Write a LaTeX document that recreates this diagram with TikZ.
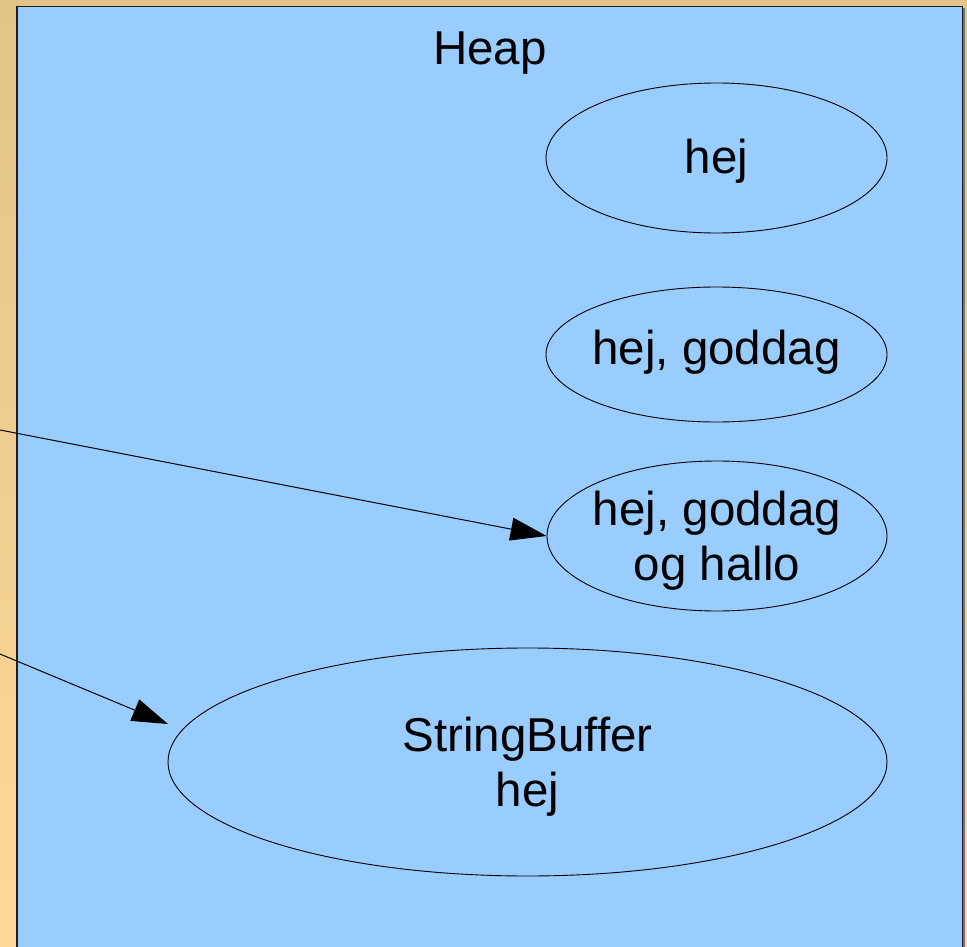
\documentclass[tikz,border=0pt]{standalone}
\usepackage{fontspec}
\setmainfont{Liberation Sans}
\usetikzlibrary{arrows.meta,shapes.geometric}
\definecolor{sandtop}{RGB}{226,196,136}
\definecolor{sandlow}{RGB}{254,216,154}
\definecolor{heapblue}{RGB}{153,204,255}
\definecolor{frame}{RGB}{30,30,30}
\tikzset{
  obj/.style={draw=black, line width=0.9pt, ellipse, inner sep=0pt},
  label/.style={align=center, inner sep=0pt, font=\fontsize{47.5}{55}\selectfont},
  ref/.style={draw=black, line width=1pt, -{Triangle[length=36pt,width=23pt]}},
}
\begin{document}
\begin{tikzpicture}[x=1pt,y=-1pt]
  \useasboundingbox (0,0) rectangle (967,947);
  % sand-coloured backdrop
  \shade[top color=sandtop, middle color=sandlow, bottom color=sandlow] (0,0) rectangle (967,947);
  % heap area
  \fill[black!55] (19.5,8.5) rectangle (965,960);
  \filldraw[fill=heapblue, draw=frame, line width=1.6pt] (17,6.5) rectangle (962.5,960);
  \node[label, anchor=base] (heap) at (490,65) {Heap};
  % objects on the heap
  \node[obj, minimum width=341pt, minimum height=150pt] (e1) at (716.5,158) {};
  \node[obj, minimum width=341pt, minimum height=135pt] (e2) at (716.5,354.5) {};
  \node[obj, minimum width=340pt, minimum height=150pt] (e3) at (717,536) {};
  \node[obj, minimum width=719pt, minimum height=228pt] (e4) at (527.5,762) {};
  \node[label, anchor=base] (l1) at (716.5,174) {hej};
  \node[label, anchor=base] (l2) at (716.5,364) {hej, goddag};
  \node[label] (l3) at ([yshift=-5pt]e3.center) {hej, goddag\\og hallo};
  \node[label] (l4) at ([yshift=-5pt]e4.center) {StringBuffer\\hej};
  % references coming from the stack
  \coordinate (r1) at (0,430);
  \coordinate (r2) at (0,654);
  \coordinate (t4) at (168,724);
  \draw[ref] (r1) -- (e3.west);
  \draw[ref] (r2) -- (t4);
\end{tikzpicture}
\end{document}
